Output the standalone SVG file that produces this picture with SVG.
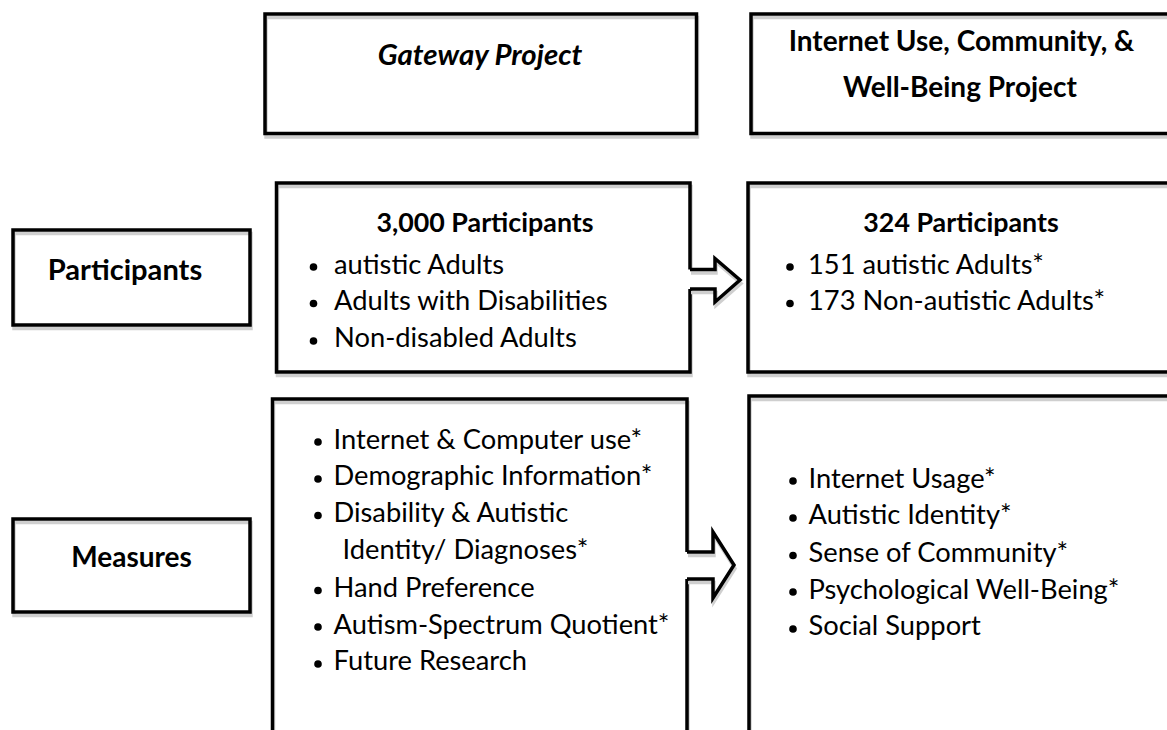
<svg xmlns="http://www.w3.org/2000/svg" width="1167" height="730" viewBox="0 0 1167 730">
<style>
.bx{fill:none;stroke:#000;stroke-width:3.5}
.sh{fill:none;stroke:#cfcfcf;stroke-width:3.5}
.wf{fill:#fff;stroke:none}
.h{font-family:Lato,"Liberation Sans",sans-serif;font-weight:bold;font-size:28px;fill:#000;text-anchor:middle}
.t{font-family:Lato,"Liberation Sans",sans-serif;font-size:27.3px;fill:#000}
.b{fill:#000}
</style>
<rect width="1167" height="730" fill="#fff"/>

<g id="gateway">
<rect class="sh" x="266" y="17.5" width="431.5" height="119.5"/>
<rect class="bx" x="265" y="14" width="431.5" height="119.5"/>
<text class="h" x="480" y="65" style="font-style:italic;font-size:29.4px">Gateway Project</text>
</g>

<g id="internet-project">
<rect class="sh" x="752" y="17.5" width="450" height="119.5"/>
<rect class="bx" x="751" y="14" width="450" height="119.5"/>
<text class="h" x="961.5" y="50.5">Internet Use, Community, &amp;</text>
<text class="h" x="960" y="96.5">Well-Being Project</text>
</g>

<g id="participants-label">
<rect class="sh" x="14" y="233.5" width="237" height="95"/>
<rect class="bx" x="13" y="230" width="237" height="95"/>
<text class="h" x="125" y="280" style="font-size:29.1px">Participants</text>
</g>

<g id="gateway-participants">
<rect class="sh" x="277.5" y="186.5" width="413.5" height="189"/>
<rect class="bx" x="276.5" y="183" width="413.5" height="189"/>
<text class="h" x="485" y="231.5" style="font-size:26.8px">3,000 Participants</text>
<circle class="b" cx="313.5" cy="267" r="3.8"/>
<text class="t" x="334" y="273.5">autistic Adults</text>
<circle class="b" cx="313.5" cy="303.5" r="3.8"/>
<text class="t" x="334" y="310">Adults with Disabilities</text>
<circle class="b" cx="313.5" cy="341" r="3.8"/>
<text class="t" x="334" y="347">Non-disabled Adults</text>
</g>

<g id="internet-participants">
<rect class="sh" x="749" y="186.5" width="450" height="189"/>
<rect class="bx" x="748" y="183" width="450" height="189"/>
<text class="h" x="961" y="231.5" style="font-size:26.8px">324 Participants</text>
<circle class="b" cx="790" cy="267" r="3.8"/>
<text class="t" x="808" y="273.5">151 autistic Adults*</text>
<circle class="b" cx="790" cy="303.5" r="3.8"/>
<text class="t" x="808" y="309.5">173 Non-autistic Adults*</text>
</g>

<g id="measures-label">
<rect class="sh" x="14" y="522.5" width="237" height="93"/>
<rect class="bx" x="13" y="519" width="237" height="93"/>
<text class="h" x="131.5" y="567">Measures</text>
</g>

<g id="gateway-measures">
<rect class="sh" x="273.5" y="402.5" width="414.5" height="400"/>
<rect class="bx" x="272.5" y="399" width="414.5" height="400"/>
<circle class="b" cx="318" cy="442" r="3.8"/>
<text class="t" x="333.5" y="448.5">Internet &amp; Computer use*</text>
<circle class="b" cx="318" cy="479" r="3.8"/>
<text class="t" x="333.5" y="485">Demographic Information*</text>
<circle class="b" cx="318" cy="515.5" r="3.8"/>
<text class="t" x="333.5" y="521.5">Disability &amp; Autistic</text>
<text class="t" x="342.5" y="558.5">Identity/ Diagnoses*</text>
<circle class="b" cx="318" cy="590.5" r="3.8"/>
<text class="t" x="333.5" y="596.5">Hand Preference</text>
<circle class="b" cx="318" cy="627" r="3.8"/>
<text class="t" x="333.5" y="633.5">Autism-Spectrum Quotient*</text>
<circle class="b" cx="318" cy="664" r="3.8"/>
<text class="t" x="333.5" y="670">Future Research</text>
</g>

<g id="internet-measures">
<rect class="sh" x="750" y="399.5" width="450" height="400"/>
<rect class="bx" x="749" y="396" width="450" height="400"/>
<circle class="b" cx="793" cy="481" r="3.8"/>
<text class="t" x="808.5" y="487.5">Internet Usage*</text>
<circle class="b" cx="793" cy="518" r="3.8"/>
<text class="t" x="808.5" y="524">Autistic Identity*</text>
<circle class="b" cx="793" cy="555.5" r="3.8"/>
<text class="t" x="808.5" y="561.5">Sense of Community*</text>
<circle class="b" cx="793" cy="592" r="3.8"/>
<text class="t" x="808.5" y="598.5">Psychological Well-Being*</text>
<circle class="b" cx="793" cy="629" r="3.8"/>
<text class="t" x="808.5" y="635">Social Support</text>
</g>

<g id="connectors">
<path class="wf" d="M686,269.5 H715 V258.5 L740,280 L715,302 V289 H686 Z"/>
<path class="sh" d="M691,273 H716 V262 L741,283.5 L716,305.5 V292.5 H691"/>
<path class="bx" d="M690,269.5 H715 V258.5 L740,280 L715,302 V289 H690"/>
<path class="wf" d="M683,552 H713 V532 L734,565 L713,598 V579 H683 Z"/>
<path class="sh" d="M688,555.5 H714 V535.5 L735,568.5 L714,601.5 V582.5 H688"/>
<path class="bx" d="M687,552 H713 V532 L734,565 L713,598 V579 H687"/>
</g>
</svg>
